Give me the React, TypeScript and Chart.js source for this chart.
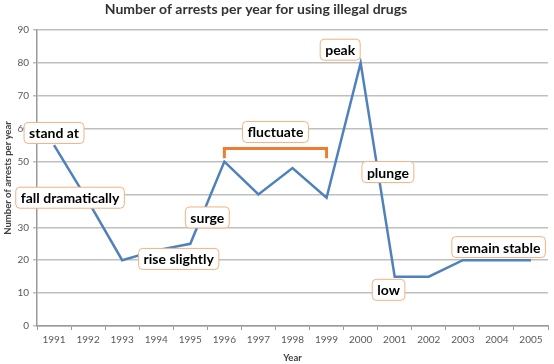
import React, { useEffect, useRef } from "react";
import { Chart, registerables } from "chart.js";

Chart.register(...registerables);

const years = ["1991","1992","1993","1994","1995","1996","1997","1998","1999","2000","2001","2002","2003","2004","2005"];
const arrests = [55, 38, 20, 23, 25, 50, 40, 48, 39, 80, 15, 15, 20, 20, 20];
const yTicks = [0, 10, 20, 30, 40, 50, 60, 70, 80, 90];

// annotation labels: text, category position (index), value position
const noteTexts = ["stand at", "fall dramatically", "rise slightly", "surge", "fluctuate", "peak", "plunge", "low", "remain stable"];
const noteX = [0, 0.47, 3.66, 4.5, 6.5, 8.4, 9.8, 9.82, 13.05];
const noteY = [58.7, 39, 20.4, 33, 59, 84, 46.8, 11, 24];
// bracket over 1996-1999
const bracketFrom = 5;
const bracketTo = 8;
const bracketTop = 54;
const bracketEnd = 51;

const TITLE = "Number of arrests per year for using illegal drugs";
const FONT = "Lato, 'Open Sans', sans-serif";

export default function App() {
  const ref = useRef<HTMLCanvasElement>(null);
  useEffect(() => {
    document.body.style.margin = "0";
    const canvas = ref.current!;
    const notesPlugin = {
      id: "notes",
      afterDatasetsDraw(chart: any) {
        const ctx = chart.ctx;
        const xs = chart.scales.x;
        const ys = chart.scales.y;
        ctx.save();
        // bracket
        ctx.strokeStyle = "#ED7D31";
        ctx.lineWidth = 3;
        ctx.lineJoin = "miter";
        ctx.beginPath();
        ctx.moveTo(xs.getPixelForValue(bracketFrom), ys.getPixelForValue(bracketEnd));
        ctx.lineTo(xs.getPixelForValue(bracketFrom), ys.getPixelForValue(bracketTop));
        ctx.lineTo(xs.getPixelForValue(bracketTo), ys.getPixelForValue(bracketTop));
        ctx.lineTo(xs.getPixelForValue(bracketTo), ys.getPixelForValue(bracketEnd));
        ctx.stroke();
        // labels
        ctx.font = `bold 14px ${FONT}`;
        ctx.textAlign = "center";
        ctx.textBaseline = "middle";
        noteTexts.forEach((t, i) => {
          const cx = xs.getPixelForValue(noteX[i]);
          const cy = ys.getPixelForValue(noteY[i]);
          const w = ctx.measureText(t).width + 10;
          const h = 21;
          ctx.beginPath();
          ctx.roundRect(cx - w / 2, cy - h / 2, w, h, 4);
          ctx.fillStyle = "#ffffff";
          ctx.fill();
          ctx.lineWidth = 1;
          ctx.strokeStyle = "#F4B183";
          ctx.stroke();
          ctx.fillStyle = "#000000";
          ctx.fillText(t, cx, cy + 1);
        });
        // title
        ctx.font = `bold 14px ${FONT}`;
        ctx.fillStyle = "#333333";
        ctx.fillText(TITLE, 256, 9);
        ctx.restore();
      },
    };
    const chart = new Chart(canvas, {
      type: "line",
      data: {
        labels: years,
        datasets: [
          {
            data: arrests,
            borderColor: "#4F81BD",
            borderWidth: 2.5,
            pointRadius: 0,
            tension: 0,
            fill: false,
          },
        ],
      },
      options: {
        animation: false,
        responsive: false,
        layout: { padding: { top: 30, right: 6, left: 2, bottom: 0 } },
        plugins: { legend: { display: false }, tooltip: { enabled: false }, title: { display: false } },
        scales: {
          x: {
            offset: true,
            grid: {
              display: true,
              offset: true,
              drawOnChartArea: false,
              drawTicks: true,
              tickLength: 4,
              color: "#999999",
            },
            border: { color: "#999999", width: 1.5 },
            ticks: { color: "#595959", font: { family: FONT, size: 10 }, padding: 4, maxRotation: 0, autoSkip: false },
            title: { display: true, text: "Year", color: "#404040", font: { family: FONT, size: 9.5, weight: "bold" }, padding: { top: 0, bottom: 0 } },
            afterFit(s: any) { s.height = 38; },
          },
          y: {
            min: 0,
            max: 90,
            afterBuildTicks(s: any) { s.ticks = yTicks.map((v) => ({ value: v })); },
            grid: { color: "#BFBFBF", lineWidth: 1.5, tickLength: 4, drawTicks: true },
            border: { color: "#999999", width: 1.5 },
            ticks: { color: "#595959", font: { family: FONT, size: 10 }, padding: 4 },
            title: { display: true, text: "Number of arrests per year", color: "#404040", font: { family: FONT, size: 9.5, weight: "bold" }, padding: { top: 0, bottom: 0 } },
            afterFit(s: any) { s.width = 35; },
          },
        },
      },
      plugins: [notesPlugin],
    });
    return () => chart.destroy();
  }, []);
  return <canvas ref={ref} width={554} height={364} style={{ display: "block" }} />;
}
